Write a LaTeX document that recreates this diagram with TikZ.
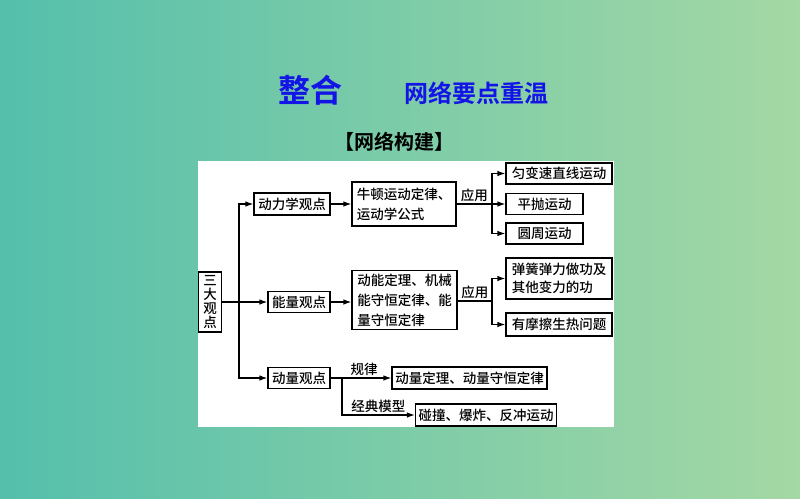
\documentclass[tikz,border=0pt]{standalone}
\usepackage{fontspec}
\setmainfont{Noto Sans CJK SC}[UprightFont={* Medium},BoldFont={* Bold}]
\usepackage{tikz}
\usetikzlibrary{arrows.meta}
\definecolor{bgleft}{RGB}{85,191,172}
\definecolor{bgmid}{RGB}{128,204,168}
\definecolor{bgright}{RGB}{164,216,164}
\definecolor{titleblue}{RGB}{20,20,230}

\begin{document}
\begin{tikzpicture}[x=1pt,y=-1pt,>={Latex[length=8pt,width=5.5pt]},line width=1.2pt,
  box/.style={draw,fill=white,inner sep=3pt,font=\fontsize{13.5}{20}\selectfont},
  lab/.style={inner sep=1.5pt,font=\fontsize{13.5}{16}\selectfont}]
\shade[left color=bgleft,middle color=bgmid,right color=bgright] (0,0) rectangle (800,498);
\useasboundingbox (0,0) rectangle (800,498);
\fill[white] (198,161) rectangle (614,427);

\node[font=\fontsize{32}{32}\selectfont\bfseries,text=titleblue] (t1) at (310,90) {整合};
\node[font=\fontsize{24}{24}\selectfont\bfseries,text=titleblue] (t2) at (476,93) {网络要点重温};
\node[font=\fontsize{20}{20}\selectfont\bfseries] (t3) at (394,142) {【网络构建】};

\node[box,minimum width=23pt,minimum height=60pt,inner sep=1pt,align=center,font=\fontsize{13.5}{14}\selectfont] (sd) at (210,302) {三\\大\\观\\点};
\node[box,minimum width=76pt,minimum height=22pt] (dl) at (292,204) {动力学观点};
\node[box,minimum width=62pt,minimum height=21pt] (nl) at (299,302) {能量观点};
\node[box,minimum width=62pt,minimum height=21pt] (dm) at (299,378) {动量观点};
\node[box,minimum width=104pt,minimum height=44pt,align=left] (nd) at (404,204) {牛顿运动定律、\\运动学公式};
\node[box,minimum width=105pt,minimum height=59pt,align=left] (dn) at (404.5,300) {动能定理、机械\\能守恒定律、能\\量守恒定律};
\node[box,minimum width=106pt,minimum height=21pt] (yb) at (559,173.5) {匀变速直线运动};
\node[box,minimum width=77pt,minimum height=21pt] (pp) at (544.5,204) {平抛运动};
\node[box,minimum width=77pt,minimum height=21pt] (yz) at (544.5,233.5) {圆周运动};
\node[box,minimum width=106pt,minimum height=41pt,align=left,font=\fontsize{13.5}{18}\selectfont] (th) at (559,278.5) {弹簧弹力做功及\\其他变力的功};
\node[box,minimum width=106pt,minimum height=23pt] (mc) at (559,324.5) {有摩擦生热问题};
\node[box,minimum width=155pt,minimum height=22pt,inner xsep=2pt] (dd) at (469.5,378) {动量定理、动量守恒定律};
\node[box,minimum width=140pt,minimum height=22pt] (pz) at (486,415) {碰撞、爆炸、反冲运动};

\coordinate (j1) at (239,302);
\coordinate (a1) at (492,204);
\coordinate (a2) at (492,301);
\coordinate (k1) at (342,378);

\draw (sd) -- (j1);
\draw[->] (j1) -- (nl);
\draw[->] (j1) |- (dl);
\draw[->] (j1) |- (dm);
\draw[->] (dl) -- (nd);
\draw (nd) -- node[lab,above] {应用} (a1);
\draw[->] (a1) |- (yb);
\draw[->] (a1) -- (pp);
\draw[->] (a1) |- (yz);
\draw[->] (nl) -- (nl -| dn.west);
\draw (dn.east |- a2) -- node[lab,above] {应用} (a2);
\draw[->] (a2) |- (th);
\draw[->] (a2) |- (mc);
\draw[->] (dm) -- node[lab,above,pos=0.55] {规律} (dd);
\draw[->] (k1) |- node[lab,above,pos=0.75] {经典模型} (pz);
\end{tikzpicture}
\end{document}
